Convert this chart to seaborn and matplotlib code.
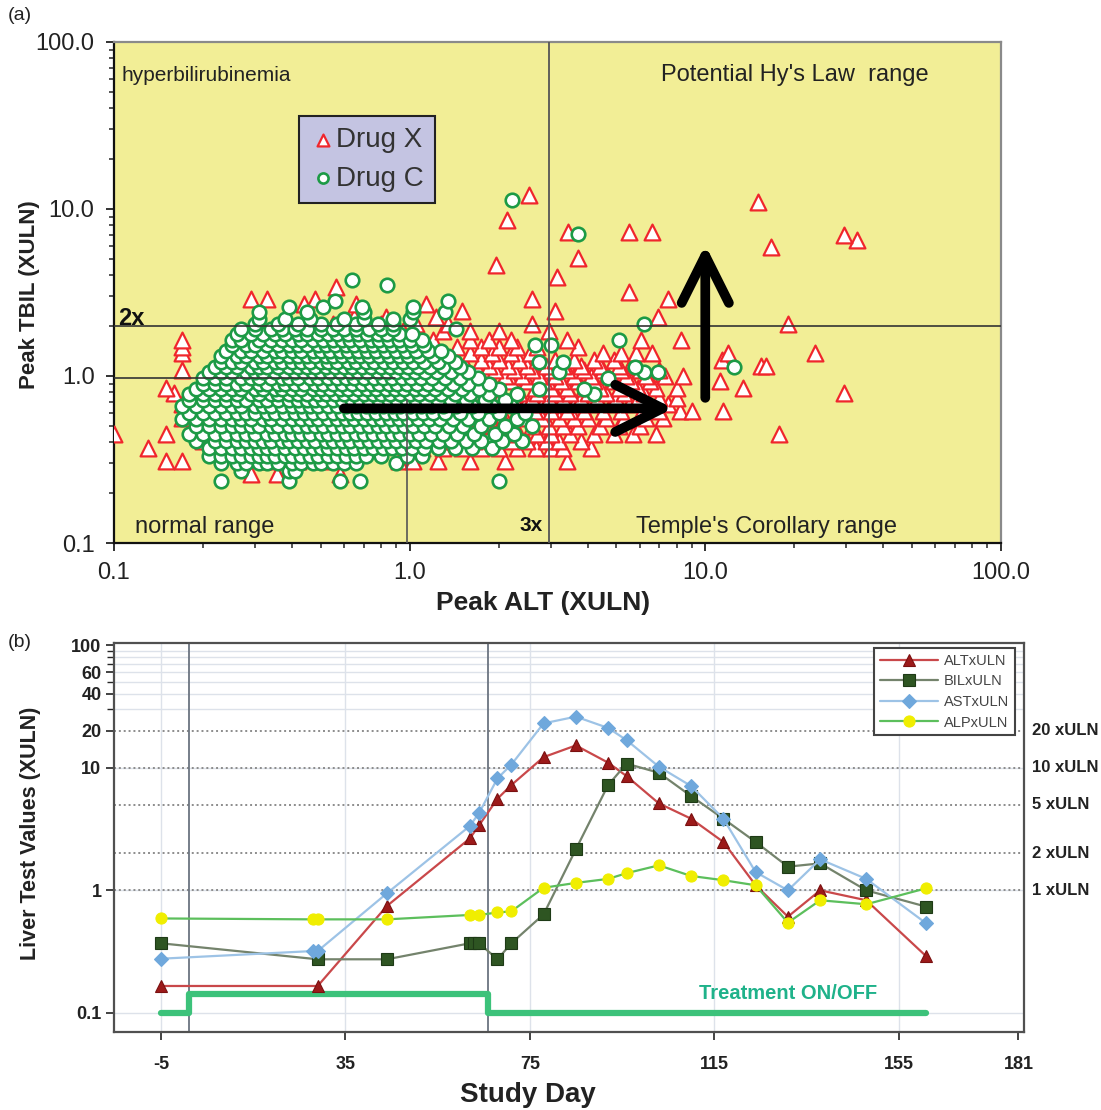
import pandas as pd
import numpy as np
import matplotlib
matplotlib.use('Agg')
import matplotlib.pyplot as plt
import matplotlib.transforms as mtransforms
from matplotlib.ticker import FixedLocator, NullFormatter
import seaborn as sns


# Panel (a): peak ALT (xULN) per subject, grouped by peak TBIL (xULN) level
drug_c_rows = {
    0.235: [0.23, 0.39, 0.58, 0.68, 2.0],
    0.27: [0.27, 0.39, 0.41],
    0.30: [0.23, 0.26, 0.28, 0.31, 0.33, 0.36, 0.40, 0.43, 0.47, 0.50, 0.55, 0.60, 0.66, 0.90],
    0.33: [0.21, 0.23, 0.25, 0.27, 0.29, 0.31, 0.33, 0.35, 0.38, 0.40, 0.43, 0.46, 0.49, 0.53, 0.57, 0.61,
           0.66, 0.71, 0.80, 0.98, 1.1],
    0.37: [0.21, 0.23, 0.25, 0.27, 0.29, 0.31, 0.33, 0.35, 0.38, 0.41, 0.44, 0.47, 0.50, 0.53, 0.57, 0.61,
           0.65, 0.70, 0.75, 0.81, 0.87, 0.94, 1.02, 1.12, 1.25, 1.42, 1.62, 1.9],
    0.41: [0.19, 0.22, 0.24, 0.26, 0.28, 0.30, 0.32, 0.34, 0.37, 0.39, 0.42, 0.45, 0.48, 0.52, 0.55, 0.59,
           0.63, 0.68, 0.73, 0.78, 0.84, 0.90, 0.97, 1.05, 1.14, 1.26, 1.38, 1.55, 1.75, 2.05, 2.4],
    0.45: [0.18, 0.20, 0.22, 0.24, 0.26, 0.28, 0.30, 0.33, 0.35, 0.38, 0.40, 0.43, 0.46, 0.50, 0.53, 0.57,
           0.61, 0.66, 0.70, 0.75, 0.81, 0.87, 0.93, 1.00, 1.08, 1.18, 1.30, 1.45, 1.65, 1.95, 2.25],
    0.50: [0.19, 0.21, 0.23, 0.25, 0.27, 0.29, 0.31, 0.34, 0.36, 0.39, 0.42, 0.45, 0.48, 0.51, 0.55, 0.59,
           0.63, 0.68, 0.73, 0.78, 0.83, 0.89, 0.96, 1.03, 1.12, 1.22, 1.36, 1.52, 1.75, 2.1, 2.6],
    0.55: [0.17, 0.19, 0.21, 0.23, 0.25, 0.27, 0.29, 0.32, 0.34, 0.37, 0.40, 0.43, 0.46, 0.49, 0.53, 0.57,
           0.61, 0.65, 0.70, 0.75, 0.80, 0.86, 0.92, 0.99, 1.07, 1.16, 1.27, 1.40, 1.58, 1.85, 2.3],
    0.60: [0.18, 0.20, 0.22, 0.24, 0.26, 0.28, 0.30, 0.33, 0.35, 0.38, 0.41, 0.44, 0.47, 0.51, 0.55, 0.59,
           0.63, 0.67, 0.72, 0.77, 0.83, 0.89, 0.95, 1.03, 1.11, 1.20, 1.32, 1.48, 1.70, 2.0, 2.45],
    0.66: [0.17, 0.19, 0.21, 0.23, 0.25, 0.27, 0.30, 0.32, 0.34, 0.37, 0.40, 0.43, 0.46, 0.49, 0.53, 0.57,
           0.61, 0.66, 0.71, 0.76, 0.81, 0.87, 0.93, 1.00, 1.09, 1.18, 1.30, 1.44, 1.62, 1.90, 2.2],
    0.72: [0.18, 0.20, 0.22, 0.24, 0.26, 0.28, 0.31, 0.33, 0.36, 0.39, 0.42, 0.45, 0.48, 0.51, 0.55, 0.59,
           0.64, 0.68, 0.73, 0.79, 0.85, 0.91, 0.98, 1.05, 1.14, 1.25, 1.38, 1.55, 1.80, 2.1],
    0.78: [0.18, 0.20, 0.22, 0.24, 0.26, 0.29, 0.31, 0.34, 0.36, 0.39, 0.42, 0.45, 0.49, 0.52, 0.56, 0.60,
           0.65, 0.70, 0.75, 0.80, 0.86, 0.93, 1.00, 1.08, 1.17, 1.28, 1.42, 1.60, 1.85, 2.3, 4.2],
    0.84: [0.19, 0.21, 0.23, 0.25, 0.27, 0.30, 0.32, 0.35, 0.37, 0.40, 0.43, 0.47, 0.50, 0.54, 0.58, 0.62,
           0.67, 0.72, 0.77, 0.83, 0.89, 0.96, 1.04, 1.12, 1.22, 1.35, 1.50, 1.72, 2.0, 2.75, 3.9],
    0.90: [0.20, 0.22, 0.24, 0.26, 0.28, 0.31, 0.33, 0.36, 0.38, 0.41, 0.44, 0.48, 0.51, 0.55, 0.59, 0.64,
           0.69, 0.74, 0.79, 0.85, 0.91, 0.98, 1.06, 1.15, 1.26, 1.40, 1.58, 1.85],
    0.97: [0.20, 0.22, 0.24, 0.27, 0.29, 0.31, 0.34, 0.37, 0.39, 0.42, 0.46, 0.49, 0.53, 0.57, 0.61, 0.65,
           0.70, 0.76, 0.81, 0.87, 0.94, 1.01, 1.09, 1.19, 1.32, 1.48, 1.70, 4.7],
    1.05: [0.21, 0.23, 0.25, 0.28, 0.30, 0.32, 0.35, 0.38, 0.41, 0.44, 0.47, 0.50, 0.54, 0.58, 0.63, 0.67,
           0.72, 0.78, 0.84, 0.90, 0.97, 1.04, 1.13, 1.24, 1.38, 1.58, 3.2, 6.2, 6.9],
    1.13: [0.22, 0.24, 0.26, 0.29, 0.31, 0.33, 0.36, 0.39, 0.42, 0.45, 0.48, 0.52, 0.56, 0.60, 0.64, 0.69,
           0.74, 0.80, 0.86, 0.92, 0.99, 1.07, 1.17, 1.30, 1.48, 5.8, 12.5],
    1.22: [0.23, 0.25, 0.27, 0.30, 0.32, 0.35, 0.37, 0.40, 0.43, 0.46, 0.50, 0.53, 0.57, 0.62, 0.66, 0.71,
           0.76, 0.82, 0.88, 0.95, 1.03, 1.12, 1.25, 1.42, 2.75, 3.3],
    1.32: [0.23, 0.26, 0.28, 0.31, 0.33, 0.36, 0.39, 0.42, 0.45, 0.48, 0.52, 0.55, 0.59, 0.64, 0.68, 0.73,
           0.79, 0.85, 0.92, 0.99, 1.08, 1.20, 1.35],
    1.42: [0.24, 0.27, 0.29, 0.32, 0.35, 0.37, 0.40, 0.43, 0.47, 0.50, 0.54, 0.58, 0.62, 0.67, 0.72, 0.77,
           0.83, 0.90, 0.97, 1.05, 1.15, 1.28],
    1.53: [0.25, 0.28, 0.30, 0.33, 0.36, 0.39, 0.42, 0.45, 0.49, 0.52, 0.56, 0.61, 0.65, 0.70, 0.75, 0.81,
           0.87, 0.94, 1.02, 1.12, 2.66, 3.0],
    1.65: [0.25, 0.27, 0.31, 0.34, 0.37, 0.40, 0.43, 0.47, 0.51, 0.55, 0.59, 0.63, 0.68, 0.74, 0.79, 0.85,
           0.92, 1.00, 1.10, 5.1],
    1.78: [0.26, 0.29, 0.32, 0.35, 0.38, 0.42, 0.45, 0.49, 0.53, 0.57, 0.62, 0.67, 0.72, 0.78, 0.84, 0.92, 1.02],
    1.92: [0.27, 0.30, 0.34, 0.37, 0.41, 0.45, 0.50, 0.55, 0.60, 0.66, 0.73, 0.80, 0.88, 1.44],
    2.05: [0.30, 0.36, 0.42, 0.50, 0.57, 0.66, 0.78, 0.88, 6.2],
    2.2: [0.31, 0.38, 0.46, 0.60, 0.70, 0.88, 1.0],
    2.4: [0.31, 0.45, 0.70, 1.03, 1.32],
    2.6: [0.39, 0.51, 0.69, 1.03],
    2.8: [0.56, 1.35],
    3.5: [0.84],
    3.75: [0.64],
    7.1: [3.7],
    11.3: [2.22],
}

drug_x_rows = {
    0.26: [0.29, 0.355, 0.58],
    0.31: [0.15, 0.17, 0.27, 0.33, 0.42, 0.50, 0.92, 1.03, 1.25, 1.6, 2.1, 3.4],
    0.37: [0.13, 0.24, 0.31, 0.45, 0.70, 1.10, 1.30, 1.50, 1.75, 2.0, 2.3, 2.67, 3.0, 3.3, 4.1],
    0.41: [0.20, 0.55, 1.15, 1.40, 1.65, 1.90, 2.2, 2.5, 2.9, 3.2, 3.8],
    0.45: [0.10, 0.15, 0.21, 1.20, 1.35, 1.55, 1.80, 2.05, 2.35, 2.7, 3.0, 3.5, 4.2, 4.9, 5.7, 6.8, 17.8],
    0.50: [0.19, 1.10, 1.30, 1.50, 1.70, 1.95, 2.25, 2.6, 2.95, 3.3, 3.7, 4.4, 5.1, 6.0],
    0.56: [0.17, 0.20, 1.05, 1.25, 1.45, 1.65, 1.85, 2.1, 2.4, 2.8, 3.2, 3.6, 4.0, 4.6, 5.3, 6.3, 7.2],
    0.62: [0.19, 1.10, 1.30, 1.50, 1.75, 2.0, 2.3, 2.65, 3.0, 3.4, 3.9, 4.5, 5.2, 6.1, 7.0, 8.2, 9.0, 11.5],
    0.68: [0.17, 1.15, 1.40, 1.60, 1.85, 2.15, 2.45, 2.8, 3.15, 3.6, 4.1, 4.8, 5.5, 6.4, 7.5],
    0.74: [0.18, 1.20, 1.45, 1.70, 1.95, 2.25, 2.6, 2.95, 3.3, 3.8, 4.3, 5.0, 5.9, 7.0, 8.0],
    0.79: [0.16, 1.10, 1.30, 1.55, 1.80, 2.05, 2.35, 2.7, 3.1, 3.5, 4.0, 4.6, 5.3, 6.2, 29.5],
    0.85: [0.15, 1.25, 1.50, 1.75, 2.0, 2.3, 2.65, 3.0, 3.4, 3.9, 4.4, 5.1, 5.9, 6.8, 8.0, 13.4],
    0.93: [1.20, 1.40, 1.65, 1.90, 2.2, 2.5, 2.85, 3.25, 3.7, 4.2, 4.9, 5.6, 6.5, 11.2],
    1.00: [1.30, 1.55, 1.80, 2.1, 2.4, 2.75, 3.1, 3.6, 4.1, 4.7, 5.4, 6.3, 7.3, 8.4],
    1.08: [0.17, 1.20, 1.45, 1.70, 1.95, 2.25, 2.6, 3.0, 3.4, 3.9, 4.5, 5.2, 6.0, 7.0],
    1.15: [1.30, 1.55, 1.85, 2.15, 2.5, 2.9, 3.3, 3.8, 4.4, 5.1, 15.4, 16.0],
    1.25: [0.45, 1.20, 1.45, 1.75, 2.0, 2.35, 2.7, 3.1, 3.6, 4.2, 4.9, 5.7, 11.4],
    1.37: [0.17, 0.50, 1.30, 1.60, 1.90, 2.2, 2.55, 4.5, 5.2, 5.85, 6.6, 11.9, 23.5],
    1.50: [0.17, 0.55, 0.75, 1.10, 1.45, 1.75, 2.0, 2.3, 2.7, 3.7],
    1.64: [0.17, 0.60, 0.85, 1.20, 1.60, 1.85, 2.2, 3.4, 6.05, 8.3],
    1.85: [0.50, 0.70, 0.95, 1.30, 1.60, 2.0, 2.96],
    2.05: [0.55, 0.80, 1.05, 1.35, 2.6, 19.1],
    2.25: [0.65, 0.83, 1.23, 6.9],
    2.45: [1.5, 3.1],
    2.7: [0.44, 0.66, 1.14],
    2.9: [0.29, 0.33, 0.48, 2.6, 7.5],
    3.2: [5.5],
    3.4: [0.565],
    3.9: [3.16],
    4.6: [1.96],
    5.1: [3.7],
    5.9: [16.7],
    6.5: [32.7],
    7.0: [29.5],
    7.3: [3.44, 5.5, 6.6],
    8.6: [2.14],
    11.0: [15.1],
    12.1: [2.53],
}

# Panel (b): liver tests over study days
alt_days = [-5, 29, 44, 62, 64, 68, 71, 78, 85, 92, 96, 103, 110, 117, 124, 131, 138, 148, 161]
alt_vals = [0.166, 0.166, 0.745, 2.65, 3.39, 5.59, 7.22, 12.2, 15.2, 11.0, 8.55, 5.12, 3.84, 2.48, 1.1,
            0.61, 1.0, 0.83, 0.29]

bil_days = [-5, 29, 44, 62, 63, 64, 68, 71, 78, 85, 92, 96, 103, 110, 117, 124, 131, 138, 148, 161]
bil_vals = [0.37, 0.274, 0.274, 0.37, 0.37, 0.37, 0.274, 0.37, 0.637, 2.16, 7.22, 10.8, 9.1, 5.87, 3.84,
            2.48, 1.56, 1.66, 1.0, 0.736]

ast_days = [-5, 28, 29, 44, 62, 64, 68, 71, 78, 85, 92, 96, 103, 110, 117, 124, 131, 138, 148, 161]
ast_vals = [0.277, 0.32, 0.32, 0.945, 3.35, 4.27, 8.19, 10.6, 23.0, 26.1, 21.1, 16.8, 10.2, 7.09, 3.84,
            1.41, 1.0, 1.79, 1.24, 0.538]

alp_days = [-5, 28, 29, 44, 62, 64, 68, 71, 78, 85, 92, 96, 103, 110, 117, 124, 131, 138, 148, 161]
alp_vals = [0.59, 0.58, 0.58, 0.58, 0.63, 0.63, 0.66, 0.674, 1.05, 1.15, 1.24, 1.38, 1.6, 1.31, 1.21,
            1.1, 0.545, 0.83, 0.77, 1.04]

treat_days = [-5, 1, 66, 161]
treat_vals = [0.1, 0.142, 0.1, 0.1]

uln_levels = [1, 2, 5, 10, 20]
uln_labels = ['1 xULN', '2 xULN', '5 xULN', '10 xULN', '20 xULN']


def rows_to_df(rows, name):
    recs = [(alt, tbil) for tbil, alts in rows.items() for alt in alts]
    df = pd.DataFrame(recs, columns=['alt', 'tbil'])
    df['drug'] = name
    return df


df_x = rows_to_df(drug_x_rows, 'Drug X')
df_c = rows_to_df(drug_c_rows, 'Drug C')

sns.set_theme(style='white')
plt.rcParams['font.family'] = ['Liberation Sans', 'DejaVu Sans']

fig = plt.figure(figsize=(11.01, 11.10), dpi=100)

# ---------------- panel (a) ----------------
ax1 = fig.add_axes([0.1035, 0.5108, 0.8056, 0.4514])
ax1.set_facecolor('#f2ee96')
sns.scatterplot(data=df_x, x='alt', y='tbil', marker='^', s=130, color='white',
                edgecolor='#f0262c', linewidth=1.6, ax=ax1, label='Drug X', zorder=3)
sns.scatterplot(data=df_c, x='alt', y='tbil', marker='o', s=95, color='white',
                edgecolor='#1c9a45', linewidth=1.9, ax=ax1, label='Drug C', zorder=4)
ax1.set_xscale('log')
ax1.set_yscale('log')
ax1.set_xlim(0.1, 100)
ax1.set_ylim(0.1, 100)
ax1.set_xlabel('')
ax1.set_ylabel('')
ax1.xaxis.set_major_locator(FixedLocator([0.1, 1, 10, 100]))
ax1.yaxis.set_major_locator(FixedLocator([0.1, 1, 10, 100]))
ax1.set_xticklabels(['0.1', '1.0', '10.0', '100.0'])
ax1.set_yticklabels(['0.1', '1.0', '10.0', '100.0'])
ax1.xaxis.set_minor_formatter(NullFormatter())
ax1.yaxis.set_minor_formatter(NullFormatter())
ax1.tick_params(which='major', direction='out', length=6, width=1.3, labelsize=17, pad=8,
                colors='#222222', bottom=True, left=True)
ax1.tick_params(which='minor', direction='out', length=3.5, width=1.1, bottom=True, left=True)
for side in ['top', 'right']:
    ax1.spines[side].set_color('#8a8a8a')
    ax1.spines[side].set_linewidth(1.6)
for side in ['left', 'bottom']:
    ax1.spines[side].set_color('#111111')
    ax1.spines[side].set_linewidth(1.6)

# reference lines
ax1.axhline(2.0, color='#333333', lw=1.2, zorder=5)
ax1.plot([0.1, 0.89], [0.97, 0.97], color='#333333', lw=1.2, zorder=5)
ax1.plot([0.98, 0.98], [0.1, 0.72], color='#555555', lw=1.2, zorder=5)
ax1.axvline(2.95, color='#555555', lw=1.3, zorder=5)

# arrows
arrow_kw = dict(arrowstyle='->,head_length=1.7,head_width=0.85', lw=7, color='black',
                mutation_scale=20, shrinkA=0, shrinkB=0)
ax1.annotate('', xy=(7.8, 0.64), xytext=(0.6, 0.64), arrowprops=arrow_kw, zorder=6)
ax1.annotate('', xy=(10.0, 6.1), xytext=(10.0, 0.74), arrowprops=arrow_kw, zorder=6)

txt_kw = dict(color='#222222', va='center', ha='left', zorder=7)
ax1.text(0.106, 63, 'hyperbilirubinemia', fontsize=15, **txt_kw)
ax1.text(7.1, 63, "Potential Hy's Law  range", fontsize=17, **txt_kw)
ax1.text(0.118, 0.125, 'normal range', fontsize=17, **txt_kw)
ax1.text(5.85, 0.125, "Temple's Corollary range", fontsize=17, **txt_kw)
ax1.text(0.103, 2.22, '2x', fontsize=17, fontweight='bold', color='#111111', va='center', ha='left', zorder=7)
ax1.text(2.35, 0.128, '3x', fontsize=15, fontweight='bold', color='#111111', va='center', ha='left', zorder=7)

leg1 = ax1.legend(loc='upper left', bbox_to_anchor=(0.2086, 0.852), borderaxespad=0, fontsize=20,
                  frameon=True, facecolor='#c4c4e2', edgecolor='#222222', framealpha=1, fancybox=False,
                  handletextpad=0.05, borderpad=0.4, labelspacing=0.45, handlelength=0.9,
                  markerscale=0.75)
leg1.get_frame().set_linewidth(1.5)
for t in leg1.get_texts():
    t.set_color('#333333')

# ---------------- panel (b) ----------------
ax2 = fig.add_axes([0.1035, 0.0703, 0.8265, 0.3504])
ax2.set_yscale('log')
ax2.set_xlim(-15.2, 182.2)
ax2.set_ylim(0.07, 104)

for v in [0.1, 1, 10, 30, 40, 50, 60, 70, 80, 90]:
    ax2.axhline(v, color='#dde2ea', lw=1.0, zorder=0)
for d in [-5, 35, 75, 115, 155]:
    ax2.axvline(d, color='#dde2ea', lw=1.0, zorder=0)
for v in uln_levels:
    ax2.axhline(v, color='#8c8c8c', lw=1.4, ls=(0, (1, 1.5)), zorder=1)
for d in [1, 66]:
    ax2.axvline(d, color='#6b7480', lw=1.3, zorder=1)

sns.lineplot(x=treat_days, y=treat_vals, ax=ax2, color='#3cc27a', lw=4.5, drawstyle='steps-post',
             estimator=None, sort=False, zorder=2)

series = [
    ('ALTxULN', alt_days, alt_vals, '^', '#c9484a', '#9c1a1a', '#7a1010'),
    ('BILxULN', bil_days, bil_vals, 's', '#74836c', '#2e5522', '#1e3a16'),
    ('ASTxULN', ast_days, ast_vals, 'D', '#9dc3e6', '#6fa8dc', '#6fa8dc'),
    ('ALPxULN', alp_days, alp_vals, 'o', '#5cbf5c', '#f0ee00', '#f0ee00'),
]
for name, d, v, m, lc, mfc, mec in series:
    sns.lineplot(x=d, y=v, ax=ax2, color=lc, lw=1.6, marker=m, markersize=8 if m != 'D' else 7,
                 markerfacecolor=mfc, markeredgecolor=mec, markeredgewidth=0.8, label=name,
                 estimator=None, sort=False, zorder=3)

ax2.set_xlabel('')
ax2.set_ylabel('')
ax2.set_xticks([-5, 35, 75, 115, 155, 181])
ax2.set_xticklabels(['-5', '35', '75', '115', '155', '181'])
ax2.yaxis.set_major_locator(FixedLocator([0.1, 1, 10, 20, 40, 60, 100]))
ax2.yaxis.set_minor_locator(FixedLocator([30, 50, 70, 80, 90]))
ax2.set_yticklabels(['0.1', '1', '10', '20', '40', '60', '100'])
ax2.yaxis.set_minor_formatter(NullFormatter())
ax2.tick_params(which='major', direction='out', length=6, width=1.2, labelsize=13, pad=3,
                colors='#222222', bottom=True, left=True)
ax2.tick_params(axis='x', pad=11)
ax2.tick_params(which='minor', direction='out', length=5, width=1.0, left=True)
for lab in ax2.get_xticklabels() + ax2.get_yticklabels():
    lab.set_fontweight('bold')
for side in ax2.spines:
    ax2.spines[side].set_color('#505050')
    ax2.spines[side].set_linewidth(1.6)

blend = mtransforms.blended_transform_factory(ax2.transAxes, ax2.transData)
for v, lab in zip(uln_levels, uln_labels):
    ax2.text(1.009, v, lab, transform=blend, ha='left', va='center', fontsize=12,
             fontweight='bold', color='#222222')

ax2.text(131, 0.143, 'Treatment ON/OFF', ha='center', va='center', color='#1fb28a',
         fontsize=14.5, fontweight='bold')

leg2 = ax2.legend(loc='upper right', bbox_to_anchor=(0.990, 0.987), borderaxespad=0, fontsize=10.5,
                  frameon=True, fancybox=False, edgecolor='#444444', facecolor='white', framealpha=1,
                  handlelength=4.0, borderpad=0.4, labelspacing=0.45, handletextpad=0.4)
leg2.get_frame().set_linewidth(1.5)
for t in leg2.get_texts():
    t.set_color('#444444')

# figure labels
fig.text(0.007, 0.9856, '(a)', fontsize=14, ha='left', va='center', color='#222222')
fig.text(0.007, 0.4216, '(b)', fontsize=14, ha='left', va='center', color='#222222')
fig.text(0.4932, 0.4568, 'Peak ALT (XULN)', fontsize=19, fontweight='bold', ha='center', va='center',
         color='#222222')
fig.text(0.0272, 0.735, 'Peak TBIL (XULN)', fontsize=16, fontweight='bold', ha='center', va='center',
         rotation=90, color='#222222')
fig.text(0.4796, 0.0135, 'Study Day', fontsize=20, fontweight='bold', ha='center', va='center',
         color='#222222')
fig.text(0.028, 0.249, 'Liver Test Values (XULN)', fontsize=15.5, fontweight='bold', ha='center',
         va='center', rotation=90, color='#222222')

fig.savefig('out.png', dpi=100)
